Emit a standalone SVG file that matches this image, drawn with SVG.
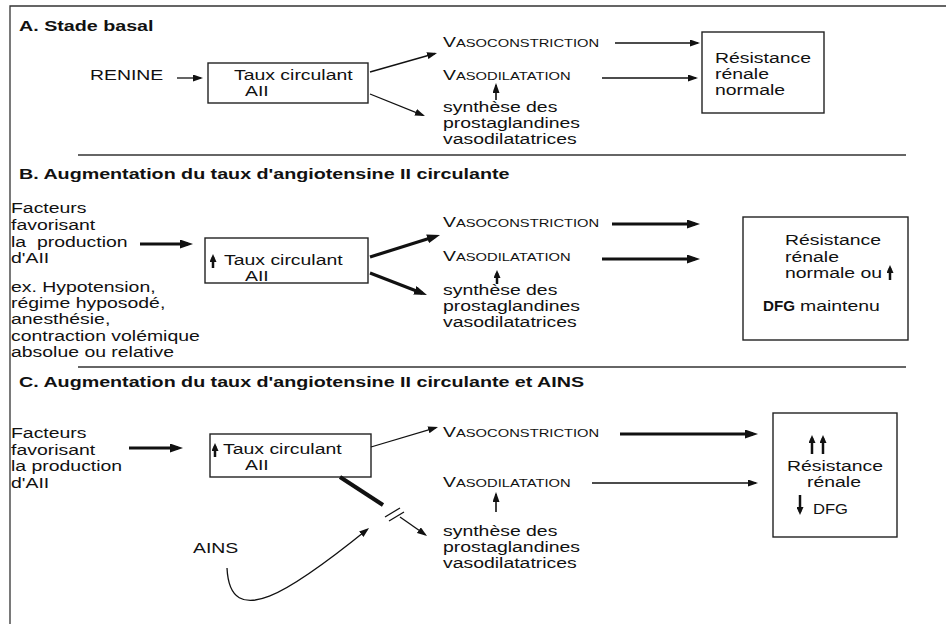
<svg xmlns="http://www.w3.org/2000/svg" width="949" height="624" viewBox="0 0 949 624">
<style>
  .t { font-family: "Liberation Sans", Arial, Helvetica, sans-serif; font-size: 14.5px; fill: #111; transform-box: fill-box; transform-origin: 0 0; transform: scaleX(1.34); }
  .n { font-family: "Liberation Sans", Arial, Helvetica, sans-serif; font-size: 14.5px; fill: #111; }
  .h { font-weight: bold; font-size: 14.7px; }
  .b { font-weight: bold; }
  .sc { font-size: 11px; }
  .box { fill: #fff; stroke: #222; stroke-width: 1.4; }
  .rule { stroke: #333; stroke-width: 1.3; fill: none; }
  .thin { stroke: #111; stroke-width: 1.3; fill: none; marker-end: url(#ma); }
  .thick { stroke: #111; stroke-width: 3.2; fill: none; marker-end: url(#mb); }
  .up { stroke: #111; stroke-width: 2.5; fill: none; marker-end: url(#mc); }
  .plain { stroke: #111; stroke-width: 1.3; fill: none; }
</style>
<defs>
  <marker id="ma" viewBox="0 0 10 7" refX="8" refY="3.5" markerWidth="10" markerHeight="7" markerUnits="userSpaceOnUse" orient="auto"><path d="M0,0 L10,3.5 L0,7 z" fill="#111"/></marker>
  <marker id="mb" viewBox="0 0 13 9" refX="8" refY="4.5" markerWidth="13" markerHeight="9" markerUnits="userSpaceOnUse" orient="auto"><path d="M0,0 L13,4.5 L0,9 z" fill="#111"/></marker>
  <marker id="mc" viewBox="0 0 8 7" refX="5" refY="3.5" markerWidth="8" markerHeight="7" markerUnits="userSpaceOnUse" orient="auto"><path d="M0,0 L8,3.5 L0,7 z" fill="#111"/></marker>
</defs>
<rect width="949" height="624" fill="#fff"/>

<!-- frame and section rules -->
<g id="frame">
  <path class="rule" d="M10,624 L10,6 L946,6"/>
  <line class="rule" x1="78" y1="155" x2="906" y2="155"/>
  <line class="rule" x1="78" y1="367" x2="906" y2="367"/>
</g>

<!-- Section A -->
<g id="titleA"><text class="t h" x="19" y="31">A. Stade basal</text></g>
<g id="A-renine"><text class="t" x="90" y="80">RENINE</text></g>
<g id="A-taux">
  <rect class="box" x="208" y="63" width="160" height="40"/>
  <text class="t" x="234" y="80">Taux circulant</text>
  <text class="t" x="245" y="96">AII</text>
</g>
<g id="A-vasoconstriction"><text class="t" x="443" y="47">V<tspan class="sc">ASOCONSTRICTION</tspan></text></g>
<g id="A-vasodilatation"><text class="t" x="443" y="80">V<tspan class="sc">ASODILATATION</tspan></text></g>
<g id="A-synthese">
  <text class="t" x="443" y="112">synthèse des</text>
  <text class="t" x="443" y="128">prostaglandines</text>
  <text class="t" x="443" y="144">vasodilatatrices</text>
</g>
<g id="A-resistance">
  <rect class="box" x="702" y="32" width="122" height="81"/>
  <text class="t" x="715" y="63">Résistance</text>
  <text class="t" x="715" y="79">rénale</text>
  <text class="t" x="715" y="95">normale</text>
</g>

<!-- Section B -->
<g id="titleB"><text class="t h" x="19" y="179">B. Augmentation du taux d'angiotensine II circulante</text></g>
<g id="B-facteurs">
  <text class="t" x="11" y="213">Facteurs</text>
  <text class="t" x="11" y="230">favorisant</text>
  <text class="t" x="11" y="247">la&#160; production</text>
  <text class="t" x="11" y="263">d'AII</text>
</g>
<g id="B-ex">
  <text class="t" x="11" y="292">ex. Hypotension,</text>
  <text class="t" x="11" y="308">régime hyposodé,</text>
  <text class="t" x="11" y="324">anesthésie,</text>
  <text class="t" x="11" y="341">contraction volémique</text>
  <text class="t" x="11" y="357">absolue ou relative</text>
</g>
<g id="B-taux">
  <rect class="box" x="205" y="238" width="163" height="45"/>
  <line class="up" x1="213" y1="268" x2="213" y2="257"/>
  <text class="t" x="224" y="265">Taux circulant</text>
  <text class="t" x="245" y="281">AII</text>
</g>
<g id="B-vasoconstriction"><text class="t" x="443" y="227">V<tspan class="sc">ASOCONSTRICTION</tspan></text></g>
<g id="B-vasodilatation"><text class="t" x="443" y="261">V<tspan class="sc">ASODILATATION</tspan></text></g>
<g id="B-synthese">
  <text class="t" x="443" y="295">synthèse des</text>
  <text class="t" x="443" y="311">prostaglandines</text>
  <text class="t" x="443" y="327">vasodilatatrices</text>
</g>
<g id="B-resistance">
  <rect class="box" x="743" y="217" width="165" height="123"/>
  <text class="t" x="785" y="245">Résistance</text>
  <text class="t" x="785" y="262">rénale</text>
  <text class="t" x="785" y="278">normale ou</text>
  <line class="up" x1="890" y1="280" x2="890" y2="268"/>
  <text class="n b" x="763" y="311" textLength="32" lengthAdjust="spacingAndGlyphs">DFG</text>
  <text class="t" x="800" y="311">maintenu</text>
</g>

<!-- Section C -->
<g id="titleC"><text class="t h" x="19" y="387">C. Augmentation du taux d'angiotensine II circulante et AINS</text></g>
<g id="C-facteurs">
  <text class="t" x="11" y="438">Facteurs</text>
  <text class="t" x="11" y="455">favorisant</text>
  <text class="t" x="11" y="471">la production</text>
  <text class="t" x="11" y="488">d'AII</text>
</g>
<g id="C-taux">
  <rect class="box" x="210" y="434" width="161" height="43"/>
  <line class="up" x1="215" y1="457" x2="215" y2="446"/>
  <text class="t" x="223" y="454">Taux circulant</text>
  <text class="t" x="245" y="470">AII</text>
</g>
<g id="C-ains"><text class="t" x="193" y="553">AINS</text></g>
<g id="C-vasoconstriction"><text class="t" x="443" y="437">V<tspan class="sc">ASOCONSTRICTION</tspan></text></g>
<g id="C-vasodilatation"><text class="t" x="443" y="487">V<tspan class="sc">ASODILATATION</tspan></text></g>
<g id="C-synthese">
  <text class="t" x="443" y="536">synthèse des</text>
  <text class="t" x="443" y="552">prostaglandines</text>
  <text class="t" x="443" y="568">vasodilatatrices</text>
</g>
<g id="C-resistance">
  <rect class="box" x="773" y="413" width="124" height="124"/>
  <line class="up" x1="812" y1="454" x2="812" y2="438"/>
  <line class="up" x1="823" y1="454" x2="823" y2="438"/>
  <text class="t" x="787" y="471">Résistance</text>
  <text class="t" x="807" y="487">rénale</text>
  <line class="up" x1="800" y1="495" x2="800" y2="512"/>
  <text class="n" x="813" y="514" textLength="35" lengthAdjust="spacingAndGlyphs">DFG</text>
</g>

<!-- connectors -->
<g id="connectors">
  <!-- A -->
  <line class="thin" x1="177" y1="78" x2="201" y2="78"/>
  <line class="thin" x1="370" y1="72" x2="435.1" y2="53.5"/>
  <line class="thin" x1="370" y1="94" x2="423.1" y2="115.3"/>
  <line class="thin" x1="615" y1="43" x2="698" y2="43"/>
  <line class="thin" x1="602" y1="78" x2="696" y2="78"/>
  <line class="thin" x1="496" y1="100" x2="496" y2="85" style="stroke-width:1.6"/>
  <!-- B -->
  <line class="thick" x1="140" y1="244" x2="188" y2="244"/>
  <line class="thick" x1="370" y1="257" x2="435.2" y2="236.5"/>
  <line class="thick" x1="370" y1="273" x2="422.3" y2="293.2"/>
  <line class="thick" x1="612" y1="224" x2="695" y2="224"/>
  <line class="thick" x1="602" y1="259" x2="695" y2="259"/>
  <line class="up" x1="497" y1="284" x2="497" y2="273"/>
  <!-- C -->
  <line class="thick" x1="129" y1="448" x2="178" y2="448"/>
  <line class="thin" x1="371" y1="447" x2="436.1" y2="427.6"/>
  <line class="plain" x1="340" y1="477" x2="383" y2="505" style="stroke-width:4"/>
  <line class="plain" x1="385" y1="517" x2="400" y2="508"/>
  <line class="plain" x1="389" y1="521" x2="404" y2="512"/>
  <line class="thin" x1="400" y1="517" x2="425.4" y2="534.8"/>
  <path class="thin" d="M227,568 C230,632 290,592 367.5,529.2"/>
  <line class="thick" x1="620" y1="434" x2="753" y2="434"/>
  <line class="thin" x1="592" y1="483" x2="756" y2="483"/>
  <line class="thin" x1="496" y1="512" x2="496" y2="494" style="stroke-width:1.6"/>
</g>
</svg>
